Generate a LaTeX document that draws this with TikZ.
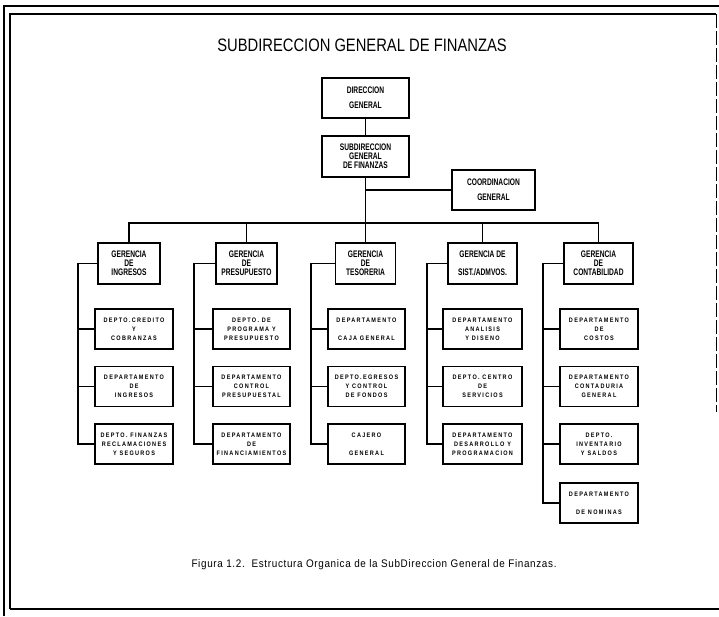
\documentclass[tikz,border=0pt]{standalone}
\usepackage{fontspec}
\setmainfont{Liberation Sans}
\newfontfamily\titlefont[FakeStretch=0.82]{Liberation Sans}
\newfontfamily\headfont[FakeStretch=0.7]{Liberation Sans}
\newfontfamily\deptfont[FakeStretch=0.85,LetterSpace=20]{Liberation Sans}
\newfontfamily\captionfont[FakeStretch=0.9,LetterSpace=6]{Liberation Sans}

\tikzset{
  unit/.style={draw, line width=1.3pt, inner sep=0pt, align=center, minimum height=40pt},
  headbox/.style={unit, font=\headfont\bfseries\fontsize{9.5}{9}\selectfont},
  deptbox/.style={unit, font=\deptfont\bfseries\fontsize{6.5}{9}\selectfont, minimum width=78pt},
  link/.style={line width=1.1pt},
  frameouter/.style={line width=2.6pt},
  frameinner/.style={line width=1.1pt}
}

\begin{document}
\begin{tikzpicture}[x=1pt,y=-1pt]
  \useasboundingbox (0,0) rectangle (719,616);

  % page frame
  \draw[frameouter] (4,616) -- (4,6) -- (719,6);
  \draw[frameinner] (10,609) -- (10,14) -- (716,14);
  \draw[frameinner] (10,609) -- (719,609);
  \draw[line width=0.8pt, dash pattern=on 14pt off 3pt] (716,14) -- (716,412);

  % title
  \node[font=\titlefont\fontsize{18}{18}\selectfont] (title) at (362,45) {SUBDIRECCION GENERAL DE FINANZAS};

  % upper levels
  \node[headbox, minimum width=87pt] (dir) at (365.5,98) {DIRECCION\\[6pt]GENERAL};
  \node[headbox, minimum width=87pt, minimum height=41pt] (sub) at (365.5,156.5) {SUBDIRECCION\\GENERAL\\DE FINANZAS};
  \node[headbox, minimum width=83pt] (coord) at (493.5,190) {COORDINACION\\[6pt]GENERAL};

  % managements
  \node[headbox, minimum width=62pt, minimum height=41pt] (g1) at (129,263.5) {GERENCIA\\DE\\INGRESOS};
  \node[headbox, minimum width=61pt, minimum height=41pt] (g2) at (246.5,263.5) {GERENCIA\\DE\\PRESUPUESTO};
  \node[headbox, minimum width=60pt, minimum height=41pt] (g3) at (365.5,263.5) {GERENCIA\\DE\\TESORERIA};
  \node[headbox, minimum width=69pt, minimum height=41pt] (g4) at (482.5,263.5) {GERENCIA DE\\[9pt]SIST./ADMVOS.};
  \node[headbox, minimum width=69pt, minimum height=41pt] (g5) at (598.5,263.5) {GERENCIA\\DE\\CONTABILIDAD};

  % departments, column 1
  \node[deptbox] (d11) at (134,329) {DEPTO.CREDITO\\Y\\COBRANZAS};
  \node[deptbox] (d12) at (134,386.5) {DEPARTAMENTO\\DE\\INGRESOS};
  \node[deptbox] (d13) at (134,444) {DEPTO. FINANZAS\\RECLAMACIONES\\Y SEGUROS};
  % column 2
  \node[deptbox, minimum width=77pt] (d21) at (251.5,329) {DEPTO. DE\\PROGRAMA Y\\PRESUPUESTO};
  \node[deptbox, minimum width=77pt] (d22) at (251.5,386.5) {DEPARTAMENTO\\CONTROL\\PRESUPUESTAL};
  \node[deptbox, minimum width=77pt] (d23) at (251.5,444) {DEPARTAMENTO\\DE\\FINANCIAMIENTOS};
  % column 3
  \node[deptbox, minimum width=77pt] (d31) at (366.5,329) {DEPARTAMENTO\\[9pt]CAJA GENERAL};
  \node[deptbox, minimum width=77pt] (d32) at (366.5,386.5) {DEPTO.EGRESOS\\Y CONTROL\\DE FONDOS};
  \node[deptbox, minimum width=77pt] (d33) at (366.5,444) {CAJERO\\[9pt]GENERAL};
  % column 4
  \node[deptbox, minimum width=79pt] (d41) at (482.5,329) {DEPARTAMENTO\\ANALISIS\\Y DISENO};
  \node[deptbox, minimum width=79pt] (d42) at (482.5,386.5) {DEPTO. CENTRO\\DE\\SERVICIOS};
  \node[deptbox, minimum width=79pt] (d43) at (482.5,444) {DEPARTAMENTO\\DESARROLLO Y\\PROGRAMACION};
  % column 5
  \node[deptbox] (d51) at (599,329) {DEPARTAMENTO\\DE\\COSTOS};
  \node[deptbox] (d52) at (599,386.5) {DEPARTAMENTO\\CONTADURIA\\GENERAL};
  \node[deptbox] (d53) at (599,444) {DEPTO.\\INVENTARIO\\Y SALDOS};
  \node[deptbox] (d54) at (599,503) {DEPARTAMENTO\\[9pt]DE NOMINAS};

  % top connectors
  \draw[link] (dir) -- (sub);
  \draw[link] (sub) -- (g3);
  \draw[link] (sub.south |- coord.west) -- (coord.west);

  % bus to the managements
  \coordinate (bus) at (0,223);
  \draw[link] (g1.north) -- (g1.north |- bus) -- (g5.north |- bus) -- (g5.north);
  \draw[link] (g2.north) -- (g2.north |- bus);
  \draw[link] (g4.north) -- (g4.north |- bus);

  % side rails to the departments
  \coordinate (r1) at (78,0);
  \coordinate (r2) at (194,0);
  \coordinate (r3) at (311,0);
  \coordinate (r4) at (427,0);
  \coordinate (r5) at (543,0);

  \draw[link] (g1.west) -- (r1 |- g1.west) -- (r1 |- d13.west) -- (d13.west);
  \draw[link] (r1 |- d11.west) -- (d11.west);
  \draw[link] (r1 |- d12.west) -- (d12.west);

  \draw[link] (g2.west) -- (r2 |- g2.west) -- (r2 |- d23.west) -- (d23.west);
  \draw[link] (r2 |- d21.west) -- (d21.west);
  \draw[link] (r2 |- d22.west) -- (d22.west);

  \draw[link] (g3.west) -- (r3 |- g3.west) -- (r3 |- d33.west) -- (d33.west);
  \draw[link] (r3 |- d31.west) -- (d31.west);
  \draw[link] (r3 |- d32.west) -- (d32.west);

  \draw[link] (g4.west) -- (r4 |- g4.west) -- (r4 |- d43.west) -- (d43.west);
  \draw[link] (r4 |- d41.west) -- (d41.west);
  \draw[link] (r4 |- d42.west) -- (d42.west);

  \draw[link] (g5.west) -- (r5 |- g5.west) -- (r5 |- d54.west) -- (d54.west);
  \draw[link] (r5 |- d51.west) -- (d51.west);
  \draw[link] (r5 |- d52.west) -- (d52.west);
  \draw[link] (r5 |- d53.west) -- (d53.west);

  % caption
  \node[anchor=west, font=\captionfont\fontsize{11}{11}\selectfont] (caption) at (188,565)
    {Figura 1.2.\ \ Estructura Organica de la SubDireccion General de Finanzas.};
\end{tikzpicture}
\end{document}
